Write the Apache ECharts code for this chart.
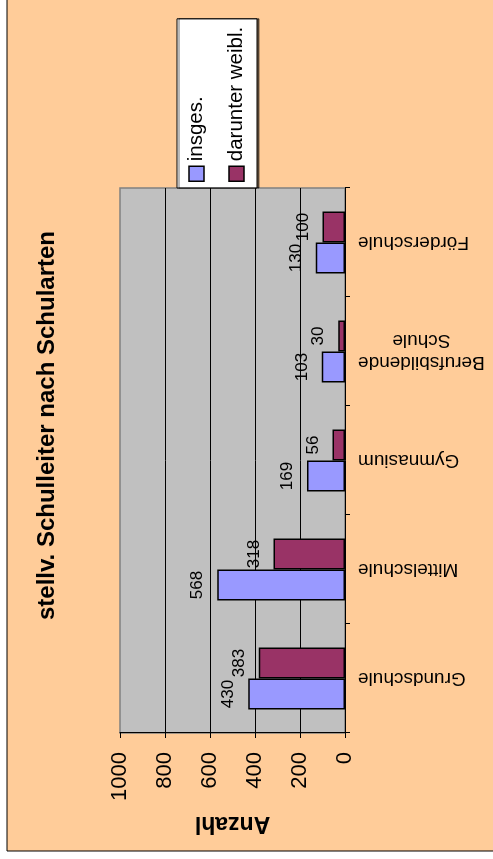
<!DOCTYPE html>
<html>
<head>
<meta charset="utf-8">
<script src="https://cdn.jsdelivr.net/npm/echarts@6/dist/echarts.min.js"></script>
<style>
  html, body { margin: 0; padding: 0; background: #fff; width: 493px; height: 859px; overflow: hidden; }
  /* the chart is laid out landscape and turned a quarter turn counter-clockwise */
  #chart { position: absolute; left: 0; top: 0; width: 859px; height: 493px;
           transform-origin: 0 0; transform: translate(0px, 859px) rotate(-90deg); }
</style>
</head>
<body>
<div id="chart"></div>
<script>
// Schularten
const categories = ['Grundschule', 'Mittelschule', 'Gymnasium', 'Berufsbildende\nSchule', 'Förderschule'];
// stellv. Schulleiter insgesamt
const insgesamt = [430, 568, 169, 103, 130];
// darunter weiblich
const weiblich = [383, 318, 56, 30, 100];
// value axis range
const axisMin = 0;
const axisMax = 1000;
const axisStep = 200;

const FONT = '"Liberation Sans", Arial, sans-serif';

const chart = echarts.init(document.getElementById('chart'), null, { renderer: 'canvas' });

chart.setOption({
  backgroundColor: '#ffffff',
  animation: false,
  textStyle: { fontFamily: FONT, color: '#000' },
  graphic: [{
    type: 'rect', z: -10, silent: true,
    shape: { x: 8, y: 7, width: 900, height: 600 },
    style: { fill: '#FFCC99', stroke: '#000', lineWidth: 1 }
  }],
  title: {
    text: 'stellv. Schulleiter nach Schularten',
    left: 239, top: 35, padding: 0,
    textStyle: { fontFamily: FONT, fontSize: 24, fontWeight: 'bold', color: '#000' }
  },
  legend: {
    data: ['insges.', 'darunter weibl.'],
    orient: 'vertical',
    left: 671, top: 177,
    padding: [9, 8, 10, 6],
    itemGap: 19,
    itemWidth: 15, itemHeight: 15,
    icon: 'rect',
    backgroundColor: '#ffffff',
    borderColor: '#000', borderWidth: 1,
    shadowColor: 'rgba(0,0,0,0.55)', shadowOffsetY: 2, shadowOffsetX: 0, shadowBlur: 0,
    itemStyle: { borderColor: '#000', borderWidth: 1.5 },
    textStyle: { fontFamily: FONT, fontSize: 20.5, color: '#000' }
  },
  grid: {
    left: 126, right: 188, top: 120, bottom: 148,
    show: true, backgroundColor: '#C0C0C0',
    borderColor: '#808080', borderWidth: 1.5
  },
  xAxis: {
    type: 'category',
    data: categories,
    axisLine: { lineStyle: { color: '#000', width: 1 } },
    axisTick: { show: true, length: 5, lineStyle: { color: '#000' } },
    axisLabel: {
      rotate: 90, margin: 13, color: '#000',
      formatter: v => v.split('\n').map(s => '{c|' + s + '}').join('\n'),
      rich: { c: { align: 'center', fontFamily: FONT, fontSize: 19, lineHeight: 22, color: '#000' } }
    }
  },
  yAxis: {
    type: 'value',
    min: axisMin, max: axisMax, interval: axisStep,
    name: 'Anzahl', nameLocation: 'middle', nameRotate: 90, nameGap: 67,
    nameTextStyle: { fontFamily: FONT, fontSize: 23, fontWeight: 'bold', color: '#000' },
    axisLine: { show: true, lineStyle: { color: '#000', width: 1 } },
    axisTick: { show: true, length: 5, lineStyle: { color: '#000' } },
    axisLabel: { margin: 19, fontFamily: FONT, fontSize: 22, color: '#000', formatter: v => String(v) },
    splitLine: { show: true, showMinLine: false, showMaxLine: false, lineStyle: { color: '#000', width: 1 } }
  },
  series: [
    {
      name: 'insges.', type: 'bar', data: insgesamt,
      barWidth: 31, barGap: '0%',
      itemStyle: { color: '#9999FF', borderColor: '#000', borderWidth: 1.5 },
      label: { show: true, position: 'top', distance: 11, fontFamily: FONT, fontSize: 17, color: '#000' }
    },
    {
      name: 'darunter weibl.', type: 'bar', data: weiblich,
      barWidth: 31, barGap: '0%',
      itemStyle: { color: '#993366', borderColor: '#000', borderWidth: 1.5 },
      label: { show: true, position: 'top', distance: 11, fontFamily: FONT, fontSize: 17, color: '#000' }
    }
  ]
});
</script>
</body>
</html>
